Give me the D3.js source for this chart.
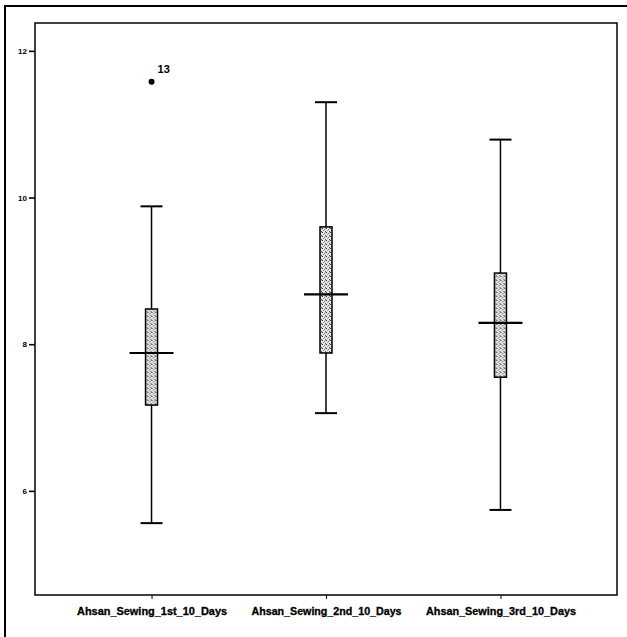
<!DOCTYPE html>
<html>
<head>
<meta charset="utf-8">
<script src="https://cdn.jsdelivr.net/npm/d3@7"></script>
<style>
  body { margin: 0; background: #fff; }
  svg { display: block; }
</style>
</head>
<body>
<div id="chart"></div>
<script>
// values
const categories = ["Ahsan_Sewing_1st_10_Days", "Ahsan_Sewing_2nd_10_Days", "Ahsan_Sewing_3rd_10_Days"];
const whiskerLow = [5.56, 7.06, 5.74];
const q1 = [7.17, 7.88, 7.55];
const median = [7.88, 8.68, 8.29];
const q3 = [8.48, 9.60, 8.97];
const whiskerHigh = [9.88, 11.30, 10.79];
const outlierCategory = ["Ahsan_Sewing_1st_10_Days"];
const outlierValue = [11.58];
const outlierLabel = ["13"];
const yTicks = [6, 8, 10, 12];

const width = 627;
const height = 637;
const plot = { left: 35, right: 617, top: 23, bottom: 595 };

const svg = d3.select('#chart')
  .append('svg')
  .attr('width', width)
  .attr('height', height)
  .attr('viewBox', `0 0 ${width} ${height}`);

// stipple fill like the old SPSS output
const pat = svg.append('defs').append('pattern')
  .attr('id', 'stipple')
  .attr('width', 4)
  .attr('height', 4)
  .attr('patternUnits', 'userSpaceOnUse');
pat.append('rect').attr('width', 4).attr('height', 4).attr('fill', '#e6e6e6');
[[0, 0, '#444'], [2, 1, '#777'], [1, 2, '#999'], [3, 3, '#555'], [3, 0, '#aaa']].forEach(p => {
  pat.append('rect').attr('x', p[0]).attr('y', p[1]).attr('width', 1).attr('height', 1).attr('fill', p[2]);
});

// outer page border (only left and top show in the crop)
svg.append('rect')
  .attr('x', 5).attr('y', 6)
  .attr('width', 700).attr('height', 700)
  .attr('fill', 'none')
  .attr('stroke', '#000')
  .attr('stroke-width', 2);

const y = d3.scaleLinear()
  .domain([4.58, 12.38])
  .range([plot.bottom, plot.top]);

const x = d3.scalePoint()
  .domain(categories)
  .range([plot.left, plot.right])
  .padding(0.668);

// plot frame
svg.append('rect')
  .attr('x', plot.left).attr('y', plot.top)
  .attr('width', plot.right - plot.left)
  .attr('height', plot.bottom - plot.top)
  .attr('fill', 'none')
  .attr('stroke', '#111')
  .attr('stroke-width', 1.6);

const yAxis = svg.append('g')
  .attr('transform', `translate(${plot.left},0)`)
  .call(d3.axisLeft(y).tickValues(yTicks).tickSize(6).tickPadding(2).tickFormat(d3.format('d')));
yAxis.select('.domain').remove();
yAxis.selectAll('line').attr('stroke', '#000').attr('stroke-width', 1.6);
yAxis.selectAll('text')
  .attr('font-family', 'Liberation Sans Narrow, Liberation Sans, sans-serif')
  .attr('font-weight', 'bold')
  .attr('font-size', 8)
  .attr('fill', '#000');

const xAxis = svg.append('g')
  .attr('transform', `translate(0,${plot.bottom})`)
  .call(d3.axisBottom(x).tickSize(4).tickPadding(9));
xAxis.select('.domain').remove();
xAxis.selectAll('line').attr('stroke', '#000').attr('stroke-width', 1);
xAxis.selectAll('text')
  .attr('font-family', 'Liberation Sans Narrow, Liberation Sans, sans-serif')
  .attr('font-weight', 'bold')
  .attr('font-size', 10)
  .attr('fill', '#000')
  .attr('stroke', '#000')
  .attr('stroke-width', 0.3)
  .attr('textLength', 150)
  .attr('lengthAdjust', 'spacingAndGlyphs');

const boxW = 12;
const medW = 44;
const capW = 22;

const node = svg.selectAll('.box')
  .data(categories.map((c, i) => ({
    name: c, lo: whiskerLow[i], q1: q1[i], med: median[i], q3: q3[i], hi: whiskerHigh[i]
  })))
  .enter().append('g')
  .attr('class', 'box')
  .attr('transform', d => `translate(${x(d.name)},0)`);

node.append('line')
  .attr('y1', d => y(d.hi)).attr('y2', d => y(d.q3))
  .attr('stroke', '#000').attr('stroke-width', 1.5);
node.append('line')
  .attr('y1', d => y(d.q1)).attr('y2', d => y(d.lo))
  .attr('stroke', '#000').attr('stroke-width', 1.5);

node.append('line')
  .attr('x1', -capW / 2).attr('x2', capW / 2)
  .attr('y1', d => y(d.hi)).attr('y2', d => y(d.hi))
  .attr('stroke', '#000').attr('stroke-width', 2);
node.append('line')
  .attr('x1', -capW / 2).attr('x2', capW / 2)
  .attr('y1', d => y(d.lo)).attr('y2', d => y(d.lo))
  .attr('stroke', '#000').attr('stroke-width', 2);

node.append('rect')
  .attr('x', -boxW / 2)
  .attr('width', boxW)
  .attr('y', d => y(d.q3))
  .attr('height', d => y(d.q1) - y(d.q3))
  .attr('fill', 'url(#stipple)')
  .attr('stroke', '#000')
  .attr('stroke-width', 1.5);

node.append('line')
  .attr('x1', -medW / 2).attr('x2', medW / 2)
  .attr('y1', d => y(d.med)).attr('y2', d => y(d.med))
  .attr('stroke', '#000').attr('stroke-width', 2.2);

// outlier
const outliers = outlierValue.map((v, i) => ({ cat: outlierCategory[i], v, label: outlierLabel[i] }));
svg.selectAll('.outlier')
  .data(outliers)
  .enter().append('circle')
  .attr('class', 'outlier')
  .attr('cx', d => x(d.cat))
  .attr('cy', d => y(d.v))
  .attr('r', 3)
  .attr('fill', '#000');
svg.selectAll('.outlier-label')
  .data(outliers)
  .enter().append('text')
  .attr('class', 'outlier-label')
  .attr('x', d => x(d.cat) + 6)
  .attr('y', d => y(d.v) - 9)
  .attr('font-family', 'Liberation Sans Narrow, Liberation Sans, sans-serif')
  .attr('font-weight', 'bold')
  .attr('font-size', 11)
  .text(d => d.label);
</script>
</body>
</html>
